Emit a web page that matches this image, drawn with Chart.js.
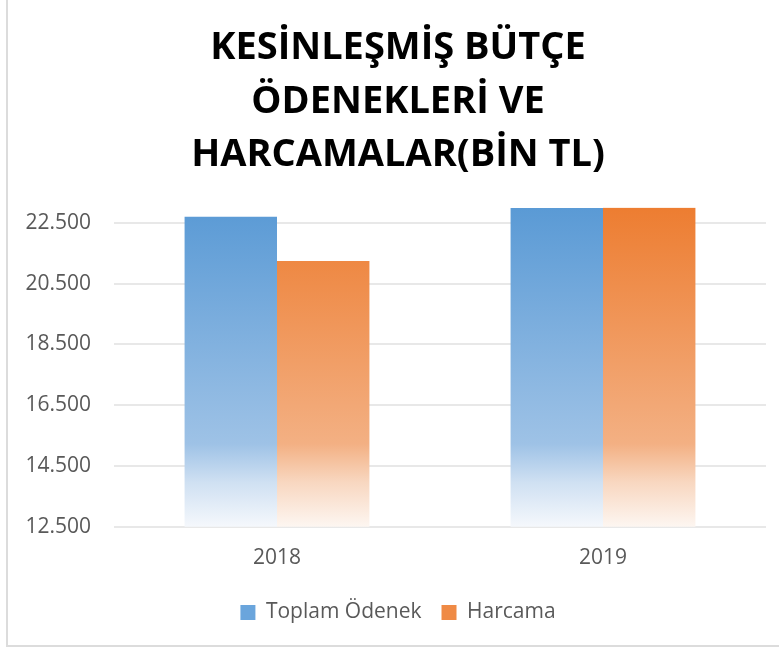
<!DOCTYPE html>
<html>
<head>
<meta charset="utf-8">
<script src="https://cdn.jsdelivr.net/npm/chart.js@4.4.1/dist/chart.umd.min.js"></script>
<style>
  html, body { margin: 0; padding: 0; background: #fff; }
  #wrap { position: relative; width: 779px; height: 653px; overflow: hidden; }
  #frame { position: absolute; left: 6px; top: -4px; width: 800px; height: 651px;
           border: 2px solid #dcdcdc; box-sizing: border-box; }
  #box { position: absolute; left: 0; top: 0; width: 779px; height: 653px; }
</style>
</head>
<body>
<div id="wrap">
  <div id="frame"></div>
  <div id="box"><canvas id="chart"></canvas></div>
</div>
<script>
// ─── DATA ────────────────────────────────────────────────────
const years      = ['2018', '2019'];
const odenek     = [22700, 22990];
const harcama    = [21240, 22995];
const yTicks     = [12500, 14500, 16500, 18500, 20500, 22500];
const titleLines = ['KESİNLEŞMİŞ BÜTÇE', 'ÖDENEKLERİ VE', 'HARCAMALAR(BİN TL)'];
const seriesNames = ['Toplam Ödenek', 'Harcama'];

// dots as thousands separator
function fmt(v) {
    return String(v).replace(/\B(?=(\d{3})+(?!\d))/g, '.');
}

function fade(ctx, area, top, mid, low, bottom) {
    const g = ctx.createLinearGradient(0, area.top, 0, area.bottom);
    g.addColorStop(0, top);
    g.addColorStop(0.74, mid);
    g.addColorStop(0.86, low);
    g.addColorStop(1, bottom);
    return g;
}

function blueFill(c) {
    const a = c.chart.chartArea;
    if (!a) return '#5b9bd5';
    return fade(c.chart.ctx, a, '#5a9ad5', '#9ec2e6', '#cfe0f2', '#f5f8fc');
}
function orangeFill(c) {
    const a = c.chart.chartArea;
    if (!a) return '#ed7d31';
    return fade(c.chart.ctx, a, '#ed7d31', '#f3b083', '#f8d7c0', '#fdf6f1');
}

const legendColors = ['#6aa5dc', '#ef8a45'];
const tickFont = { family: 'Open Sans', size: 21 };

new Chart(document.getElementById('chart'), {
    type: 'bar',
    data: {
        labels: years,
        datasets: [
            { label: seriesNames[0], data: odenek, backgroundColor: blueFill,
              categoryPercentage: 0.567, barPercentage: 1 },
            { label: seriesNames[1], data: harcama, backgroundColor: orangeFill,
              categoryPercentage: 0.567, barPercentage: 1 }
        ]
    },
    options: {
        responsive: true,
        maintainAspectRatio: false,
        animation: false,
        layout: { padding: { left: 17, right: 0, top: 0, bottom: 20 } },
        plugins: {
            title: {
                display: true,
                text: titleLines,
                color: '#000',
                font: { family: 'Open Sans', size: 38, weight: 'bold', lineHeight: 1.4 },
                padding: { top: 22, bottom: 26 }
            },
            legend: {
                position: 'bottom',
                labels: {
                    color: '#595959',
                    font: tickFont,
                    boxWidth: 15,
                    boxHeight: 15,
                    padding: 20,
                    generateLabels: chart => seriesNames.map((n, i) => ({
                        text: n,
                        fillStyle: legendColors[i],
                        strokeStyle: legendColors[i],
                        lineWidth: 0,
                        fontColor: '#595959',
                        datasetIndex: i,
                        hidden: false
                    }))
                }
            },
            tooltip: { enabled: false }
        },
        scales: {
            x: {
                grid: { display: false },
                border: { display: false },
                ticks: { color: '#595959', font: tickFont, padding: 11 }
            },
            y: {
                min: 12500,
                max: 23000,
                afterBuildTicks: s => { s.ticks = yTicks.map(v => ({ value: v })); },
                afterFit: s => { s.width = 97; },
                grid: { color: '#e8e8e8', lineWidth: 2, drawTicks: false },
                border: { display: false },
                ticks: { color: '#595959', font: tickFont, padding: 23,
                         callback: v => fmt(v) }
            },
            // empty right-hand spacer so the plot stops short of the edge
            yRight: {
                position: 'right',
                grid: { display: false },
                border: { display: false },
                ticks: { display: false },
                afterFit: s => { s.width = 13; }
            }
        }
    }
});
</script>
</body>
</html>
